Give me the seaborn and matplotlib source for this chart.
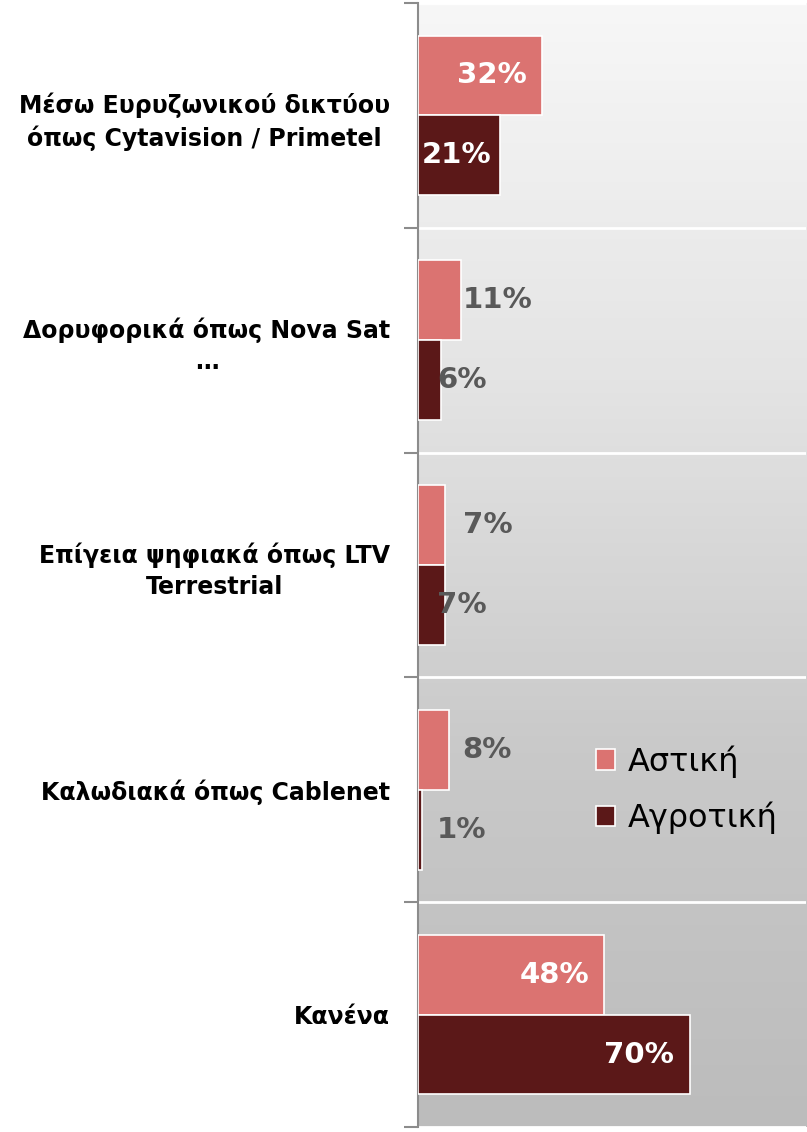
import numpy as np
import pandas as pd
import matplotlib
matplotlib.use("Agg")
import matplotlib.pyplot as plt
import seaborn as sns

CATEGORIES = [
    "Μέσω Ευρυζωνικού δικτύου\nόπως Cytavision / Primetel",
    "Δορυφορικά όπως Nova Sat\n…",
    "Επίγεια ψηφιακά όπως LTV\nTerrestrial",
    "Καλωδιακά όπως Cablenet",
    "Κανένα",
]
SERIES = ["Αστική", "Αγροτική"]
URBAN = [32, 11, 7, 8, 48]
RURAL = [21, 6, 7, 1, 70]
COLORS = ["#db7371", "#5b1818"]

sns.set_theme(style="white")
plt.rcParams["font.family"] = ["DejaVu Sans"]

df = pd.DataFrame({
    "cat": CATEGORIES * 2,
    "series": [SERIES[0]] * len(CATEGORIES) + [SERIES[1]] * len(CATEGORIES),
    "value": URBAN + RURAL,
})

fig = plt.figure(figsize=(8.07, 11.32), dpi=100)
ax = fig.add_axes([0.518, 0.0044, 0.481, 0.9930])

# gradient background of the plot area
grad = np.linspace(0, 1, 256).reshape(-1, 1)
ax.imshow(grad, cmap=matplotlib.colors.LinearSegmentedColormap.from_list(
    "bg", ["#f7f7f7", "#e4e4e4", "#c9c9c9", "#bcbcbc"]),
    aspect="auto", extent=[0, 1, 0, 1], transform=ax.transAxes, zorder=0)

sns.barplot(data=df, y="cat", x="value", hue="series", palette=COLORS,
            saturation=1, width=0.71, edgecolor="white", linewidth=1.2,
            ax=ax, zorder=3, legend=True)

ax.set_xlim(0, 100)
ax.set_ylim(len(CATEGORIES) - 0.5, -0.5)
ax.set_xlabel("")
ax.set_ylabel("")
ax.set_xticks([])

# category labels at centres, tick marks at boundaries
ax.set_yticks(range(len(CATEGORIES)))
ax.set_yticklabels(CATEGORIES, fontsize=17, fontweight="bold", color="black")
for lbl in ax.get_yticklabels():
    lbl.set_multialignment("center")
    lbl.set_linespacing(1.35)
ax.tick_params(axis="y", which="major", left=False, length=0, pad=20)
ax.set_yticks(np.arange(-0.5, len(CATEGORIES)), minor=True)
ax.tick_params(axis="y", which="minor", left=True, length=10, width=1.5,
               color="#8c8c8c")
ax.grid(axis="y", which="minor", color="white", linewidth=2, zorder=1)
ax.set_axisbelow(True)

for s in ["top", "right", "bottom"]:
    ax.spines[s].set_visible(False)
ax.spines["left"].set_color("#8c8c8c")
ax.spines["left"].set_linewidth(1.5)

# data labels
out_pos = [11.5, 4.9]
for k, cont in enumerate(ax.containers):
    for bar in cont:
        v = bar.get_width()
        yc = bar.get_y() + bar.get_height() / 2
        if v >= 20:
            ax.text(max(v - 4, 19), yc, f"{v:.0f}%", ha="right", va="center",
                    color="white", fontsize=21, fontweight="bold", zorder=5)
        else:
            ax.text(out_pos[k], yc, f"{v:.0f}%", ha="left", va="center",
                    color="#595959", fontsize=21, fontweight="bold", zorder=5)

leg = ax.legend(loc="center left", bbox_to_anchor=(0.385, 0.30), frameon=False,
                fontsize=23, labelcolor="black", handlelength=0.6,
                handleheight=0.6, handletextpad=0.4, labelspacing=0.75)
for h in leg.legend_handles:
    h.set_edgecolor("white")

fig.savefig("out.png", dpi=100)
